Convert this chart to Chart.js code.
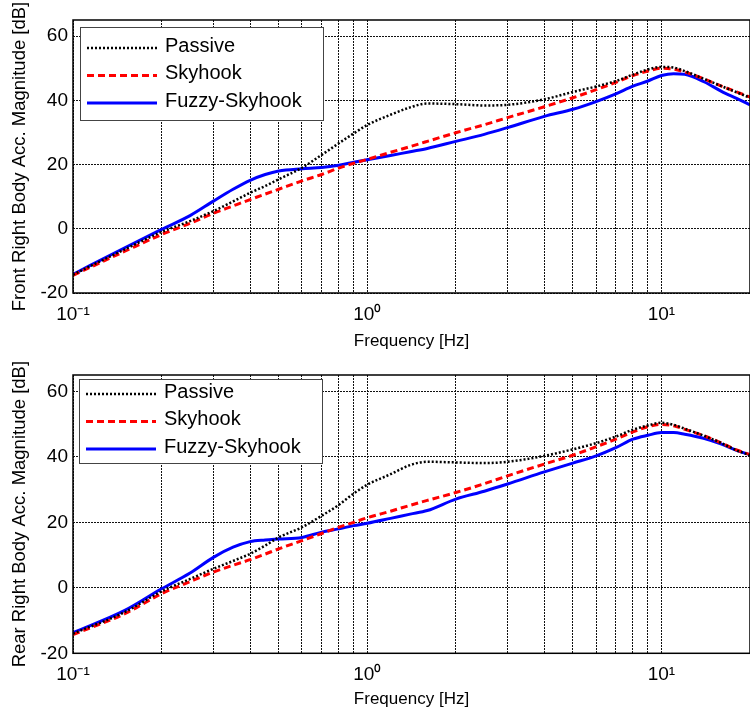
<!DOCTYPE html>
<html>
<head>
<meta charset="utf-8">
<script src="https://cdn.jsdelivr.net/npm/chart.js@4.4.1/dist/chart.umd.min.js"></script>
<style>
  html, body { margin: 0; padding: 0; background: #fff; }
  body { width: 750px; height: 716px; overflow: hidden; position: relative; }
  .panel { position: absolute; left: 0; width: 760px; height: 358px; }
</style>
</head>
<body>
<div class="panel" style="top:0"><canvas id="chartFront" width="760" height="358"></canvas></div>
<div class="panel" style="top:358px"><canvas id="chartRear" width="760" height="358"></canvas></div>
<script>
// frequencies [Hz] shared by every curve
const freq = [0.1, 0.15, 0.2, 0.25, 0.3, 0.35, 0.4, 0.45, 0.5, 0.6, 0.7, 0.8, 0.9, 1, 1.2, 1.4, 1.6, 2, 2.5, 3, 4, 5, 6, 7, 8, 9, 10, 11, 12, 14, 16, 18, 20];

// front right body acc. magnitude [dB]
const frontPassive = [-14.3, -6.4, -1, 2.4, 5.5, 8.5, 11.2, 13.3, 15.4, 19, 23, 26.6, 29.7, 32.3, 35.5, 37.8, 39, 38.8, 38.4, 38.6, 40.3, 42.6, 44.3, 46, 48, 49.6, 50.4, 50.2, 49.1, 46.6, 44.4, 42.5, 40.8];
const frontSkyhook = [-14.5, -7, -1.8, 1.7, 4.8, 7.1, 9.1, 10.8, 12.3, 14.9, 16.9, 18.9, 20.4, 21.6, 23.8, 25.6, 27.2, 29.9, 32.4, 34.6, 38, 40.8, 43.3, 45.6, 47.7, 49.1, 50, 49.7, 48.8, 46.6, 44.4, 42.6, 41];
const frontFuzzy = [-14.2, -5.9, -0.2, 4.1, 8.6, 12.3, 15.1, 16.9, 18, 18.7, 19.1, 19.8, 20.7, 21.5, 22.8, 24, 25, 27.2, 29.4, 31.5, 35, 37.2, 39.6, 42, 44.4, 46, 47.7, 48.3, 48.1, 45.7, 42.8, 40.6, 38.6];

// rear right body acc. magnitude [dB]
const rearPassive = [-14, -7.4, -1.1, 2.7, 5.8, 8.2, 10.4, 12.9, 15.4, 18.5, 22, 25.3, 28.8, 31.5, 34.7, 37.5, 38.5, 38.3, 38.1, 38.5, 40.3, 42.3, 44.2, 46.2, 48.3, 49.6, 50.4, 49.8, 48.6, 46.4, 44.2, 42, 40.5];
const rearSkyhook = [-14.3, -7.9, -1.8, 1.9, 4.8, 6.9, 8.6, 10.3, 11.9, 14.4, 16.6, 18.5, 20, 21.4, 23.4, 25.2, 26.7, 29.1, 31.8, 34.2, 37.8, 40.5, 43.1, 45.4, 47.6, 49.2, 49.9, 49.5, 48.4, 46.4, 44.2, 42.1, 40.7];
const rearFuzzy = [-13.7, -6.9, -0.3, 4.5, 9.3, 12.4, 14.1, 14.6, 14.9, 15.4, 17, 18, 19, 19.7, 21.2, 22.5, 23.6, 27.1, 29.5, 31.7, 35.4, 38.1, 40.3, 42.8, 45.4, 46.6, 47.4, 47.4, 46.9, 45.6, 43.9, 42, 40.6];

const seriesNames = ['Passive', 'Skyhook', 'Fuzzy-Skyhook'];

// axis ticks
const xGridTicks = [0.1, 0.2, 0.3, 0.4, 0.5, 0.6, 0.7, 0.8, 0.9, 1, 2, 3, 4, 5, 6, 7, 8, 9, 10, 20];
const xLabelValues = [0.1, 1, 10];
const xLabelTexts = ['10\u207B\u00B9', '10\u2070', '10\u00B9'];
const yTicks = [-20, 0, 20, 40, 60];

const FONT = '"Liberation Sans", Arial, Helvetica, sans-serif';
Chart.defaults.font.family = FONT;
Chart.defaults.color = '#000';

function pts(ys) {
  return freq.map((f, i) => ({x: f, y: ys[i]}));
}

// box around the axes, like matlab's "box on"
const frame = {
  id: 'frame',
  afterDatasetsDraw(chart) {
    const {ctx, chartArea: a} = chart;
    ctx.save();
    ctx.strokeStyle = '#000';
    ctx.lineWidth = 1.5;
    ctx.strokeRect(a.left, a.top, a.right - a.left, a.bottom - a.top);
    ctx.restore();
  }
};

// legend drawn inside the plot with a border
const boxLegend = {
  id: 'boxLegend',
  afterDatasetsDraw(chart, args, o) {
    const {ctx, chartArea: a} = chart;
    const x0 = a.left + o.dx, y0 = a.top + o.dy;
    ctx.save();
    ctx.fillStyle = '#fff';
    ctx.fillRect(x0, y0, o.w, o.h);
    ctx.strokeStyle = '#444';
    ctx.lineWidth = 1;
    ctx.strokeRect(x0 + 0.5, y0 + 0.5, o.w, o.h);
    ctx.font = '20px ' + FONT;
    ctx.textBaseline = 'middle';
    chart.data.datasets.forEach((ds, i) => {
      const y = y0 + o.first + i * o.row;
      ctx.beginPath();
      ctx.setLineDash(ds.borderDash || []);
      ctx.lineWidth = ds.borderWidth;
      ctx.strokeStyle = ds.borderColor;
      ctx.moveTo(x0 + 7, y);
      ctx.lineTo(x0 + 77, y);
      ctx.stroke();
      ctx.setLineDash([]);
      ctx.fillStyle = '#000';
      ctx.fillText(ds.label, x0 + 85, y - 2);
    });
    ctx.restore();
  }
};

function makeChart(id, passive, skyhook, fuzzy, yTitle, cfg) {
  return new Chart(document.getElementById(id), {
    type: 'line',
    data: {
      datasets: [{
        label: seriesNames[0],
        data: pts(passive),
        borderColor: '#000000',
        borderWidth: 2.5,
        borderDash: [2, 2],
      }, {
        label: seriesNames[1],
        data: pts(skyhook),
        borderColor: '#ff0000',
        borderWidth: 3,
        borderDash: [7, 4],
      }, {
        label: seriesNames[2],
        data: pts(fuzzy),
        borderColor: '#0000ff',
        borderWidth: 3,
      }]
    },
    options: {
      responsive: false,
      animation: false,
      layout: {padding: {top: cfg.top, right: 2.44, left: 0, bottom: 0}},
      elements: {
        point: {radius: 0},
        line: {cubicInterpolationMode: 'monotone', fill: false}
      },
      scales: {
        x: {
          type: 'logarithmic',
          min: 0.1,
          max: 20,
          afterBuildTicks: s => { s.ticks = xGridTicks.map(v => ({value: v})); },
          afterFit: s => { s.height = cfg.xh; },
          ticks: {
            autoSkip: false,
            maxRotation: 0,
            padding: 10,
            font: {size: 19},
            callback: v => {
              const i = xLabelValues.indexOf(v);
              return i >= 0 ? xLabelTexts[i] : '';
            }
          },
          grid: {color: '#111', lineWidth: 1, drawTicks: false},
          border: {display: false, dash: [2, 1]},
          title: {display: true, text: 'Frequency [Hz]', font: {size: 17}, padding: {top: 0, bottom: 6}}
        },
        y: {
          min: -20,
          max: 65,
          afterBuildTicks: s => { s.ticks = yTicks.map(v => ({value: v})); },
          afterFit: s => { s.width = 73; },
          ticks: {padding: 5, font: {size: 19}},
          grid: {color: '#111', lineWidth: 1, drawTicks: false},
          border: {display: false, dash: [2, 1]},
          title: {display: true, text: yTitle, font: {size: 18.5}, padding: {top: 9, bottom: 0}}
        }
      },
      plugins: {
        legend: {display: false},
        tooltip: {enabled: false},
        boxLegend: cfg.legend
      }
    },
    plugins: [frame, boxLegend]
  });
}

makeChart('chartFront', frontPassive, frontSkyhook, frontFuzzy,
  'Front Right Body Acc. Magnitude [dB]',
  {top: 20, xh: 65, legend: {dx: 7, dy: 7, w: 243, h: 93, first: 21, row: 27.5}});

makeChart('chartRear', rearPassive, rearSkyhook, rearFuzzy,
  'Rear Right Body Acc. Magnitude [dB]',
  {top: 17, xh: 62.7, legend: {dx: 6, dy: 4, w: 243, h: 84, first: 15, row: 27.5}});
</script>
</body>
</html>
